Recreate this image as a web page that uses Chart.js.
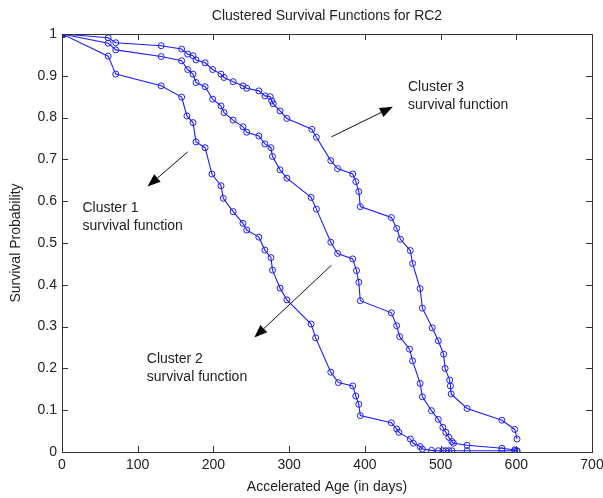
<!DOCTYPE html>
<html>
<head>
<meta charset="utf-8">
<title>Clustered Survival Functions for RC2</title>
<script src="https://cdn.jsdelivr.net/npm/chart.js@4/dist/chart.umd.min.js"></script>
<style>
  html, body { margin: 0; padding: 0; background: #fff; }
</style>
</head>
<body>
<canvas id="survivalChart" width="603" height="498"></canvas>
<script>
// Kaplan-Meier style survival curves, one per cluster
const cluster3Age = [0, 61, 71, 131, 158, 166, 173, 177, 189, 199, 210, 214, 226, 239, 244, 260, 268, 275, 277, 279,
    288, 297, 330, 336, 355, 364, 384, 388, 392, 394, 435, 442, 447, 460, 463, 473, 476, 489, 497, 504,
    506, 512, 513, 514, 535, 581, 598, 601];
const cluster3Surv = [1, 0.991, 0.979, 0.972, 0.964, 0.952, 0.948, 0.938, 0.931, 0.915, 0.904, 0.896, 0.886, 0.876, 0.870, 0.864, 0.852, 0.850, 0.840, 0.833,
    0.816, 0.798, 0.772, 0.753, 0.697, 0.678, 0.665, 0.647, 0.623, 0.587, 0.561, 0.535, 0.509, 0.482, 0.451, 0.391, 0.344, 0.297, 0.266, 0.234,
    0.200, 0.172, 0.158, 0.139, 0.104, 0.076, 0.054, 0.031];

const cluster2Age = [0, 61, 71, 131, 158, 166, 173, 177, 189, 199, 210, 214, 226, 239, 244, 260, 268, 276, 278, 288,
    297, 329, 336, 355, 364, 384, 389, 392, 394, 435, 442, 446, 459, 463, 473, 476, 488, 497, 503, 507,
    511, 515, 517, 535, 581, 598, 601];
const cluster2Surv = [1, 0.978, 0.962, 0.946, 0.936, 0.915, 0.904, 0.884, 0.874, 0.844, 0.828, 0.812, 0.794, 0.778, 0.765, 0.756, 0.737, 0.728, 0.707, 0.675,
    0.655, 0.609, 0.581, 0.502, 0.475, 0.462, 0.434, 0.406, 0.362, 0.333, 0.302, 0.276, 0.246, 0.218, 0.164, 0.132, 0.099, 0.078, 0.059, 0.047,
    0.035, 0.025, 0.021, 0.016, 0.009, 0.005, 0.002];

const cluster1Age = [0, 61, 71, 131, 158, 165, 173, 177, 189, 198, 210, 213, 226, 239, 244, 260, 268, 276, 278, 288,
    297, 329, 335, 355, 365, 384, 388, 392, 394, 435, 442, 445, 460, 464, 473, 476, 488, 497, 503, 507,
    511, 515, 535, 581, 598, 601];
const cluster1Surv = [1, 0.947, 0.904, 0.876, 0.849, 0.804, 0.788, 0.742, 0.728, 0.665, 0.637, 0.607, 0.575, 0.547, 0.531, 0.514, 0.483, 0.465, 0.435, 0.392,
    0.364, 0.306, 0.273, 0.191, 0.166, 0.158, 0.134, 0.114, 0.087, 0.070, 0.055, 0.047, 0.031, 0.021, 0.013, 0.007, 0.004, 0.003, 0.003, 0.003,
    0.003, 0.003, 0.003, 0.003, 0.003, 0.003];

const xTicks = [0, 100, 200, 300, 400, 500, 600, 700];
const yTickLabels = ['0', '0.1', '0.2', '0.3', '0.4', '0.5', '0.6', '0.7', '0.8', '0.9', '1'];

const TITLE = 'Clustered Survival Functions for RC2';
const BLUE = '#1c1cff';
const INK = '#222';
const FONT = "'Liberation Sans', Arial, sans-serif";

function toPoints(ages, surv) {
    return ages.map((a, i) => ({ x: a, y: surv[i] }));
}

function curve(label, ages, surv) {
    return {
        label: label,
        data: toPoints(ages, surv),
        showLine: true,
        borderColor: BLUE,
        borderWidth: 1.1,
        pointRadius: ctx => ctx.dataIndex === 0 ? 4 : 3,
        pointBorderWidth: 1,
        pointBorderColor: BLUE,
        pointBackgroundColor: ctx => ctx.dataIndex === 0 ? BLUE : 'rgba(0,0,0,0)'
    };
}

// text + arrow callouts, anchored in data units
const callouts = [
    { lines: ['Cluster 3', 'survival function'], at: [457, 0.873], tail: [356, 0.754], head: [437, 0.826] },
    { lines: ['Cluster 1', 'survival function'], at: [27, 0.584], tail: [166, 0.718], head: [113, 0.635] },
    { lines: ['Cluster 2', 'survival function'], at: [112, 0.222], tail: [356, 0.447], head: [254, 0.274] }
];

// MATLAB-like box with inward tick marks on all four sides, title centred on the axes
const boxTicks = {
    id: 'boxTicks',
    afterDraw(chart) {
        const { ctx, chartArea: a, scales: { x, y } } = chart;
        const len = 6;
        ctx.save();
        ctx.strokeStyle = '#333';
        ctx.lineWidth = 1;
        ctx.beginPath();
        xTicks.forEach(v => {
            const px = Math.round(x.getPixelForValue(v)) + 0.5;
            ctx.moveTo(px, a.bottom); ctx.lineTo(px, a.bottom - len);
            ctx.moveTo(px, a.top); ctx.lineTo(px, a.top + len);
        });
        yTickLabels.forEach((t, i) => {
            const py = Math.round(y.getPixelForValue(i / 10)) + 0.5;
            ctx.moveTo(a.left, py); ctx.lineTo(a.left + len, py);
            ctx.moveTo(a.right, py); ctx.lineTo(a.right - len, py);
        });
        ctx.stroke();
        ctx.strokeRect(Math.round(a.left) + 0.5, Math.round(a.top) + 0.5,
            Math.round(a.right - a.left), Math.round(a.bottom - a.top));

        ctx.fillStyle = INK;
        ctx.font = '14px ' + FONT;
        ctx.textAlign = 'center';
        ctx.textBaseline = 'middle';
        ctx.fillText(TITLE, (a.left + a.right) / 2, 16);
        ctx.restore();
    }
};

const calloutPlugin = {
    id: 'callouts',
    afterDraw(chart) {
        const { ctx, scales: { x, y } } = chart;
        ctx.save();
        callouts.forEach(c => {
            const tx = x.getPixelForValue(c.tail[0]), ty = y.getPixelForValue(c.tail[1]);
            const hx = x.getPixelForValue(c.head[0]), hy = y.getPixelForValue(c.head[1]);
            const ang = Math.atan2(hy - ty, hx - tx);
            const hl = 13, hw = 5;
            const bx = hx - hl * Math.cos(ang), by = hy - hl * Math.sin(ang);
            ctx.strokeStyle = '#111';
            ctx.lineWidth = 1;
            ctx.beginPath();
            ctx.moveTo(tx, ty);
            ctx.lineTo(bx, by);
            ctx.stroke();
            ctx.fillStyle = '#000';
            ctx.beginPath();
            ctx.moveTo(hx, hy);
            ctx.lineTo(bx + hw * Math.sin(ang), by - hw * Math.cos(ang));
            ctx.lineTo(bx - hw * Math.sin(ang), by + hw * Math.cos(ang));
            ctx.closePath();
            ctx.fill();

            ctx.fillStyle = INK;
            ctx.font = '14px ' + FONT;
            ctx.textAlign = 'left';
            ctx.textBaseline = 'middle';
            const lx = x.getPixelForValue(c.at[0]), ly = y.getPixelForValue(c.at[1]);
            c.lines.forEach((t, i) => ctx.fillText(t, lx, ly + i * 18));
        });
        ctx.restore();
    }
};

const canvas = document.getElementById('survivalChart');
new Chart(canvas.getContext('2d'), {
    type: 'scatter',
    data: {
        datasets: [
            curve('Cluster 3', cluster3Age, cluster3Surv),
            curve('Cluster 2', cluster2Age, cluster2Surv),
            curve('Cluster 1', cluster1Age, cluster1Surv)
        ]
    },
    options: {
        responsive: false,
        animation: false,
        layout: { padding: { top: 34, right: 11, bottom: 0, left: 0 } },
        plugins: {
            legend: { display: false },
            tooltip: { enabled: false },
            title: { display: false }
        },
        scales: {
            x: {
                type: 'linear',
                min: 0,
                max: 700,
                afterBuildTicks: s => { s.ticks = xTicks.map(v => ({ value: v })); },
                afterFit: s => { s.height = 46; s.paddingLeft = 0; s.paddingRight = 0; },
                grid: { display: false, drawTicks: false },
                border: { display: false },
                ticks: { color: INK, padding: 5, font: { family: FONT, size: 14 } },
                title: {
                    display: true,
                    text: 'Accelerated Age (in days)',
                    color: INK,
                    font: { family: FONT, size: 14 },
                    padding: { top: 0, bottom: 2 }
                }
            },
            y: {
                type: 'linear',
                min: 0,
                max: 1,
                afterBuildTicks: s => { s.ticks = yTickLabels.map((t, i) => ({ value: i / 10 })); },
                afterFit: s => { s.width = 62; s.paddingTop = 0; s.paddingBottom = 0; },
                grid: { display: false, drawTicks: false },
                border: { display: false },
                ticks: {
                    color: INK,
                    padding: 5,
                    font: { family: FONT, size: 14 },
                    callback: (v, i) => yTickLabels[i]
                },
                title: {
                    display: true,
                    text: 'Survival Probability',
                    color: INK,
                    font: { family: FONT, size: 14 },
                    padding: { top: 8, bottom: 0 }
                }
            }
        }
    },
    plugins: [boxTicks, calloutPlugin]
});
</script>
</body>
</html>
